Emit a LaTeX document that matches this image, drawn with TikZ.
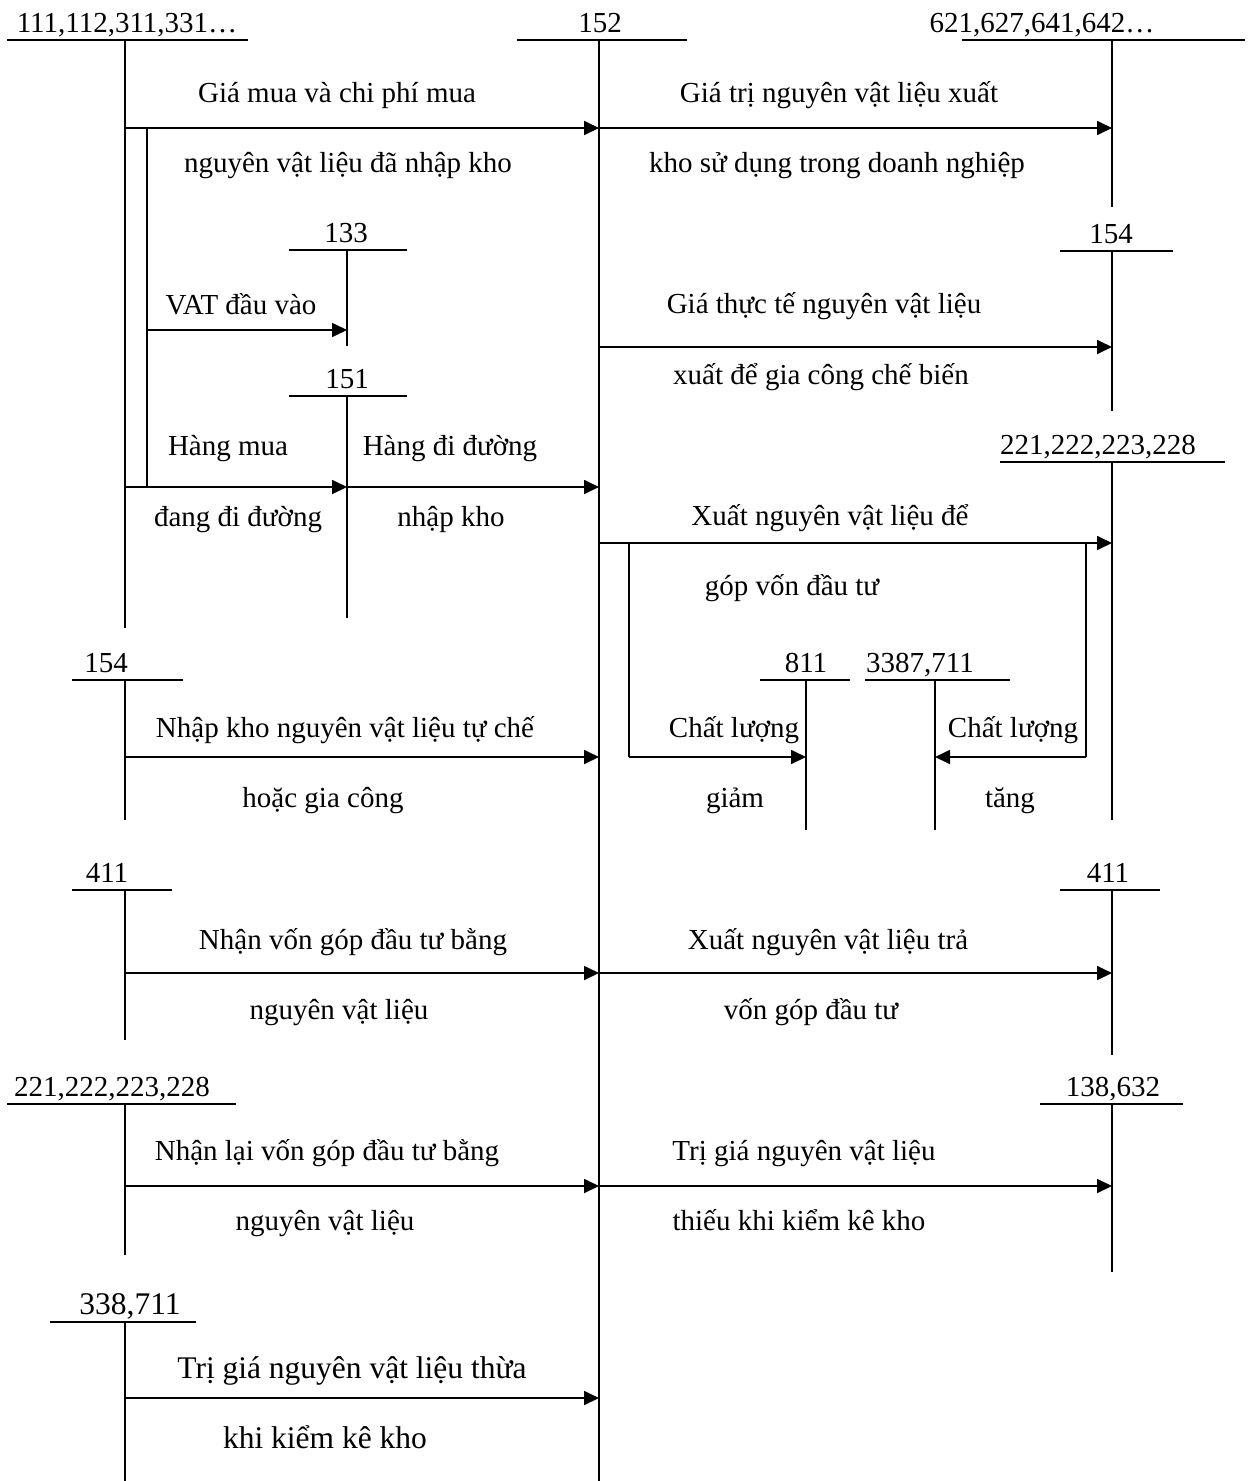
\documentclass[tikz,border=0pt]{standalone}
\usepackage{fontspec}
\setmainfont{Liberation Serif}
\usetikzlibrary{arrows.meta}
\newcommand{\tacct}[9]{%
  \node[#9] (#1) at (#3,#4-8) {#2};
  \coordinate (#1-l) at (#5,#4);
  \coordinate (#1-r) at (#6,#4);
  \coordinate (#1-t) at (#7,#4);
  \coordinate (#1-b) at (#7,#8);
  \draw[ln] (#1-l) -- (#1-r);
  \draw[ln] (#1-t) -- (#1-b);
}
\begin{document}
\begin{tikzpicture}[x=1pt,y=-1pt,
  ln/.style={line width=1.8pt},
  arr/.style={line width=1.8pt,-{Triangle[length=15pt,width=14pt]}},
  txt/.style={anchor=base,inner sep=0pt,font=\fontsize{29}{34}\selectfont},
  big/.style={anchor=base,inner sep=0pt,font=\fontsize{31.5}{36}\selectfont}]
\useasboundingbox (0,0) rectangle (1248,1481);

% T-accounts
\tacct{a111}{111,112,311,331…}{127}{40}{7}{248}{125}{628}{txt}
\tacct{a152}{152}{600}{40}{517}{687}{599}{1481}{txt}
\tacct{a621}{621,627,641,642…}{1042}{40}{962}{1245}{1112}{207}{txt}
\tacct{a133}{133}{346}{250}{289}{407}{347}{346}{txt}
\tacct{a151}{151}{347}{396}{289}{407}{347}{618}{txt}
\tacct{a154r}{154}{1111}{251}{1060}{1173}{1112}{411}{txt}
\tacct{a221r}{221,222,223,228}{1098}{462}{1000}{1225}{1112}{820}{txt}
\tacct{a811}{811}{806}{680}{760}{850}{806}{830}{txt}
\tacct{a3387}{3387,711}{920}{680}{865}{1010}{935}{830}{txt}
\tacct{a154l}{154}{106}{680}{72}{183}{125}{820}{txt}
\tacct{a411l}{411}{107}{890}{72}{172}{125}{1040}{txt}
\tacct{a411r}{411}{1108}{890}{1060}{1160}{1112}{1055}{txt}
\tacct{a221l}{221,222,223,228}{112}{1104}{7}{236}{125}{1255}{txt}
\tacct{a138}{138,632}{1113}{1104}{1040}{1183}{1112}{1272}{txt}
\tacct{a338}{338,711}{130}{1322}{50}{196}{125}{1481}{big}

% branch coordinates
\coordinate (br1t) at (147,128);
\coordinate (br1b) at (147,487);
\coordinate (br2t) at (629,543);
\coordinate (br2b) at (629,757);
\coordinate (br3t) at (1086,543);
\coordinate (br3b) at (1086,757);

% connectors
\draw[arr] (a111-t |- br1t) -- (a152-t |- br1t);
\draw[arr] (a152-t |- br1t) -- (a621-t |- br1t);
\draw[ln] (br1t) -- (br1b);
\draw[arr] (br1t |- 0,330) -- (a133-t |- 0,330);
\draw[arr] (a111-t |- br1b) -- (a151-t |- br1b);
\draw[arr] (a151-t |- br1b) -- (a152-t |- br1b);
\draw[arr] (a152-t |- 0,347) -- (a154r-t |- 0,347);
\draw[arr] (a152-t |- br2t) -- (a221r-t |- br2t);
\draw[ln] (br2t) -- (br2b);
\draw[arr] (br2b) -- (a811-t |- br2b);
\draw[ln] (br3t) -- (br3b);
\draw[arr] (br3b) -- (a3387-t |- br3b);
\draw[arr] (a154l-t |- 0,757) -- (a152-t |- 0,757);
\draw[arr] (a411l-t |- 0,973) -- (a152-t |- 0,973);
\draw[arr] (a152-t |- 0,973) -- (a411r-t |- 0,973);
\draw[arr] (a221l-t |- 0,1186) -- (a152-t |- 0,1186);
\draw[arr] (a152-t |- 0,1186) -- (a138-t |- 0,1186);
\draw[arr] (a338-t |- 0,1398) -- (a152-t |- 0,1398);

% texts
\node[txt] (t1) at (337,102) {Giá mua và chi phí mua};
\node[txt] (t2) at (348,172) {nguyên vật liệu đã nhập kho};
\node[txt] (t3) at (839,102) {Giá trị nguyên vật liệu xuất};
\node[txt] (t4) at (837,172) {kho sử dụng trong doanh nghiệp};
\node[txt] (t5) at (241,314) {VAT đầu vào};
\node[txt] (t6) at (824,313) {Giá thực tế nguyên vật liệu};
\node[txt] (t7) at (821,384) {xuất để gia công chế biến};
\node[txt] (t8) at (228,455) {Hàng mua};
\node[txt] (t9) at (450,455) {Hàng đi đường};
\node[txt] (t10) at (238,526) {đang đi đường};
\node[txt] (t11) at (451,526) {nhập kho};
\node[txt] (t12) at (830,525) {Xuất nguyên vật liệu để};
\node[txt] (t13) at (792,595) {góp vốn đầu tư};
\node[txt] (t14) at (734,737) {Chất lượng};
\node[txt] (t15) at (1013,737) {Chất lượng};
\node[txt] (t16) at (735,807) {giảm};
\node[txt] (t17) at (1010,807) {tăng};
\node[txt] (t18) at (345,737) {Nhập kho nguyên vật liệu tự chế};
\node[txt] (t19) at (323,807) {hoặc gia công};
\node[txt] (t20) at (353,949) {Nhận vốn góp đầu tư bằng};
\node[txt] (t21) at (339,1019) {nguyên vật liệu};
\node[txt] (t22) at (828,949) {Xuất nguyên vật liệu trả};
\node[txt] (t23) at (811,1019) {vốn góp đầu tư};
\node[txt] (t24) at (327,1160) {Nhận lại vốn góp đầu tư bằng};
\node[txt] (t25) at (325,1230) {nguyên vật liệu};
\node[txt] (t26) at (804,1160) {Trị giá nguyên vật liệu};
\node[txt] (t27) at (799,1230) {thiếu khi kiểm kê kho};
\node[big] (t28) at (352,1378) {Trị giá nguyên vật liệu thừa};
\node[big] (t29) at (325,1448) {khi kiểm kê kho};
\end{tikzpicture}
\end{document}
